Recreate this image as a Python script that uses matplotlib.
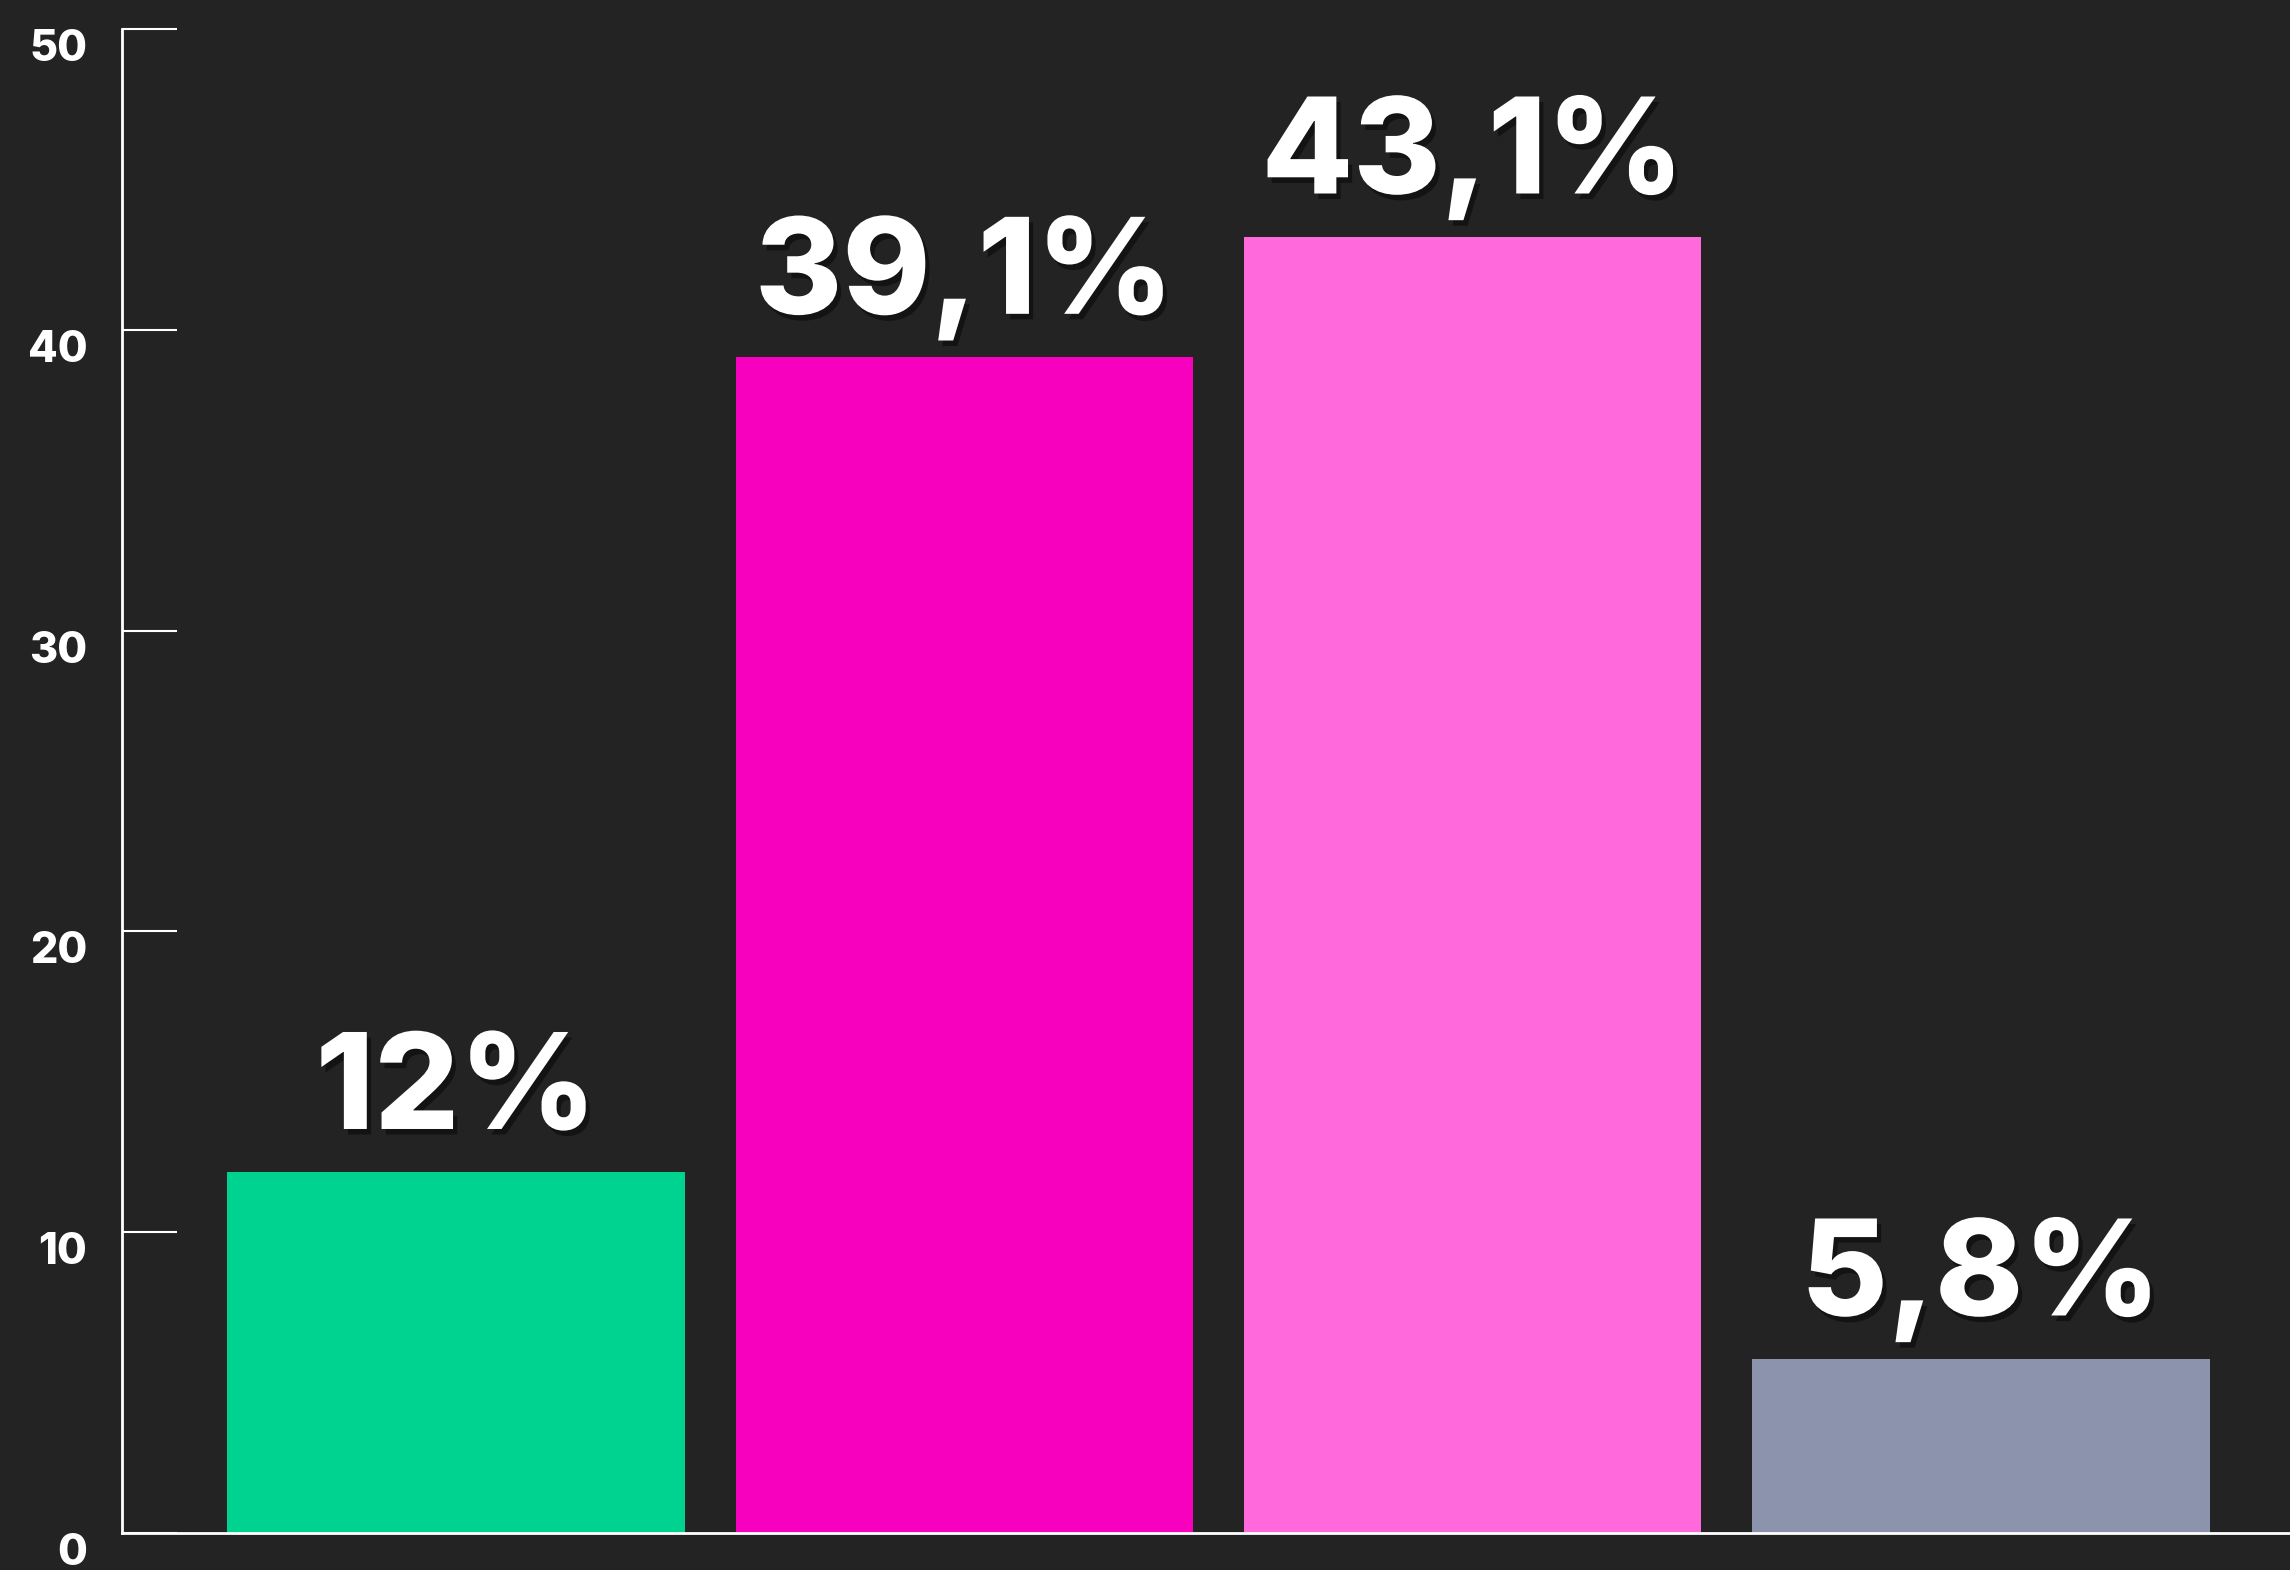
import matplotlib
matplotlib.use("Agg")
import matplotlib.pyplot as plt
import matplotlib.patheffects as pe
import matplotlib.transforms as mtransforms
from matplotlib import font_manager

categories = ["A", "B", "C", "D"]
values = [12.0, 39.1, 43.1, 5.8]
value_labels = ["12%", "39,1%", "43,1%", "5,8%"]
colors = ["#00D290", "#F700BE", "#FF69DC", "#8C93AD"]
yticks = [0, 10, 20, 30, 40, 50]

BG = "#232323"
avail = {f.name for f in font_manager.fontManager.ttflist}
family = ["Inter", "DejaVu Sans"] if "Inter" in avail else ["DejaVu Sans"]

DPI = 100
fig = plt.figure(figsize=(22.9, 15.7), dpi=DPI, facecolor=BG)
ax = fig.add_axes([122 / 2290, 37 / 1570, 1 - 122 / 2290, (1533 - 29) / 1570])
ax.set_facecolor(BG)

x = list(range(len(categories)))
ax.bar(x, values, width=0.9, color=colors, zorder=2)
ax.set_xlim(-0.657, 3.608)
ax.set_ylim(0, 50)

for s in ["top", "right"]:
    ax.spines[s].set_visible(False)
for s in ["left", "bottom"]:
    ax.spines[s].set_color("white")
    ax.spines[s].set_linewidth(2)
    ax.spines[s].set_zorder(3)

ax.set_xticks([])
ax.set_yticks(yticks)
ax.set_yticklabels([str(t) for t in yticks])
ax.tick_params(axis="y", direction="in", length=39.6, width=1.5, color="white",
               labelcolor="white", labelsize=31, pad=25)
offset = mtransforms.ScaledTranslation(0, -16 / DPI, fig.dpi_scale_trans)
for lab in ax.get_yticklabels():
    lab.set_fontfamily(family)
    lab.set_fontweight(800)
    lab.set_transform(lab.get_transform() + offset)

shadow = [pe.withSimplePatchShadow(offset=(3, -4), shadow_rgbFace="black", alpha=0.45)]
for xi, v, lab in zip(x, values, value_labels):
    ax.annotate(lab, (xi, v), xytext=(0, 31), textcoords="offset points",
                ha="center", va="baseline", color="white", fontsize=96,
                fontfamily=family, fontweight=800, path_effects=shadow, zorder=4)

fig.savefig("out.png", dpi=DPI, facecolor=BG)
